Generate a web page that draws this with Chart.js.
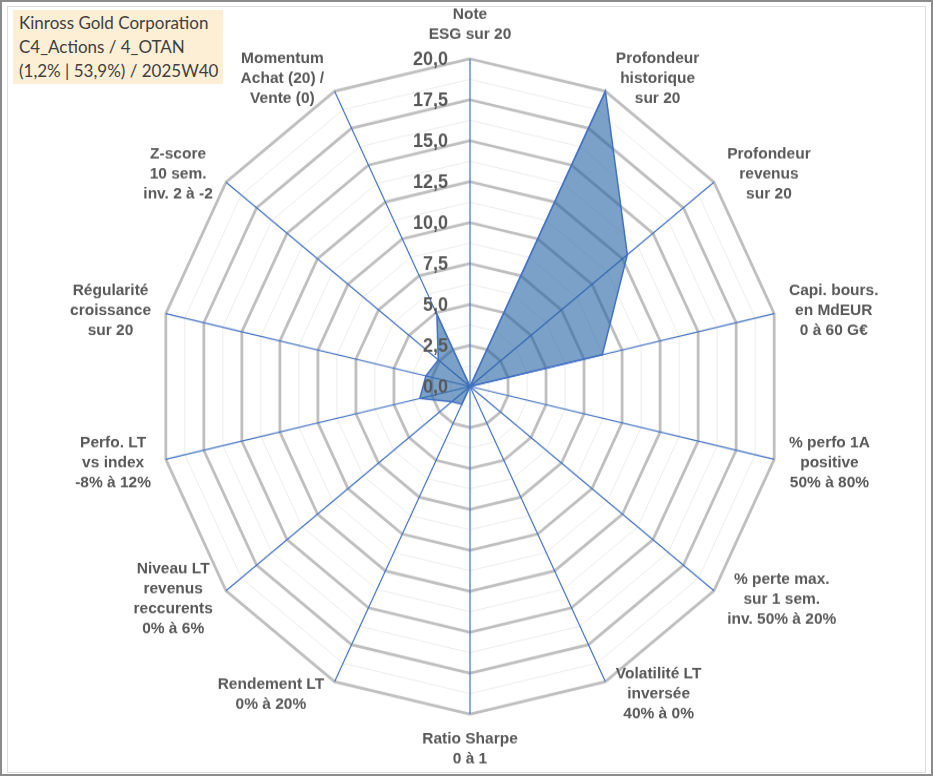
<html>
<head>
<meta charset="utf-8">
<style>
body { margin:0; background:#fff; }
#frame { position:absolute; left:0; top:0; width:933px; height:776px; box-sizing:border-box; border:2px solid #8c8c8c; background:#fff; }
#inner { position:absolute; left:5px; top:4px; width:919px; height:767px; box-sizing:border-box; border:1px solid #dcdcdc; }
#wrap { position:absolute; left:0; top:0; width:933px; height:739px; transform:scaleY(1.0501); transform-origin:0 0; }
#title { position:absolute; left:13px; top:10px; width:210px; height:74px; box-sizing:border-box; padding:1px 0 0 6px;
  background:#fdefd6; color:#404040; font-family:Lato, "Open Sans", sans-serif; font-size:17px; line-height:24px; white-space:nowrap; }
</style>
</head>
<body>
<script src="https://cdn.jsdelivr.net/npm/chart.js@4/dist/chart.umd.min.js"></script>
<div id="frame"><div id="inner"></div></div>
<div id="wrap"><canvas id="radar" width="933" height="739"></canvas></div>
<div id="title">Kinross Gold Corporation<br>C4_Actions / 4_OTAN<br>(1,2% | 53,9%) / 2025W40</div>
<script>
// axes, clockwise from the top
const axisLabels = [
    ['Note', 'ESG sur 20'],
    ['Profondeur', 'historique', 'sur 20'],
    ['Profondeur', 'revenus', 'sur 20'],
    ['Capi. bours.', 'en MdEUR', '0 à 60 G€'],
    ['% perfo 1A', 'positive', '50% à 80%'],
    ['% perte max.', 'sur 1 sem.', 'inv. 50% à 20%'],
    ['Volatilité LT', 'inversée', '40% à 0%'],
    ['Ratio Sharpe', '0 à 1'],
    ['Rendement LT', '0% à 20%'],
    ['Niveau LT', 'revenus', 'reccurents', '0% à 6%'],
    ['Perfo. LT', 'vs index', '-8% à 12%'],
    ['Régularité', 'croissance', 'sur 20'],
    ['Z-score', '10 sem.', 'inv. 2 à -2'],
    ['Momentum', 'Achat (20) /', 'Vente (0)']
];
const scores = [0, 20, 12.9, 8.7, 0, 0, 0, 0, 1.2, 1.5, 3.3, 2.9, 2.6, 4.9];
const tickValues = [0, 2.5, 5, 7.5, 10, 12.5, 15, 17.5, 20];
const tickLabels = ['0,0', '2,5', '5,0', '7,5', '10,0', '12,5', '15,0', '17,5', '20,0'];

const textColor = '#595959';
const fontFam = '"Liberation Sans", Arial, sans-serif';

// tick values and axis names drawn from the scale geometry
const radarText = {
    id: 'radarText',
    afterDatasetsDraw(chart) {
        const s = chart.scales.r;
        const ctx = chart.ctx;
        ctx.save();
        ctx.fillStyle = textColor;
        ctx.font = 'bold 18px ' + fontFam;
        ctx.textAlign = 'right';
        ctx.textBaseline = 'middle';
        tickValues.forEach((v, i) => {
            const y = s.yCenter - s.getDistanceFromCenterForValue(v);
            ctx.fillText(tickLabels[i], s.xCenter - 22, y + 1);
        });

        ctx.font = 'bold 15.5px ' + fontFam;
        ctx.textAlign = 'center';
        const lh = 19;
        axisLabels.forEach((lines, i) => {
            const p = s.getPointPosition(i, s.drawingArea);
            const a = p.angle + Math.PI / 2;
            const sn = Math.sin(a), cs = Math.cos(a);
            const w = Math.max(...lines.map(t => ctx.measureText(t).width));
            const h = lines.length * lh;
            let cx, cy;
            if (Math.abs(sn) < 0.05) {
                cx = p.x;
                cy = p.y - Math.sign(cs) * (h / 2 + 14);
            } else {
                cx = p.x + Math.sign(sn) * (w / 2 + 7 + 8 * Math.abs(sn));
                cy = p.y - cs * 13;
            }
            lines.forEach((t, k) => {
                ctx.fillText(t, cx, cy - h / 2 + lh * (k + 0.5));
            });
        });
        ctx.restore();
    }
};

Chart.defaults.font.family = fontFam;

const ctx = document.getElementById('radar').getContext('2d');
const myChart = new Chart(ctx, {
    type: 'radar',
    data: {
        labels: axisLabels,
        datasets: [{
            label: 'Kinross Gold Corporation',
            data: scores,
            backgroundColor: 'rgba(37, 99, 163, 0.6)',
            borderColor: '#4472c4',
            borderWidth: 1.5,
            pointRadius: 0,
            fill: true
        }]
    },
    options: {
        responsive: false,
        animation: false,
        layout: { padding: { left: 158, right: 151, top: 56, bottom: 59 } },
        plugins: { legend: { display: false }, tooltip: { enabled: false } },
        scales: {
            r: {
                min: 0,
                max: 20,
                ticks: { display: false, stepSize: 1.25 },
                pointLabels: { display: false },
                angleLines: { color: '#4472c4', lineWidth: 1.2 },
                grid: {
                    circular: false,
                    color: c => (c.tick && c.tick.value % 2.5 === 0) ? '#bfbfbf' : '#ececec',
                    lineWidth: c => (c.tick && c.tick.value % 2.5 === 0) ? 2.8 : 1
                }
            }
        }
    },
    plugins: [radarText]
});
</script>
</body>
</html>
